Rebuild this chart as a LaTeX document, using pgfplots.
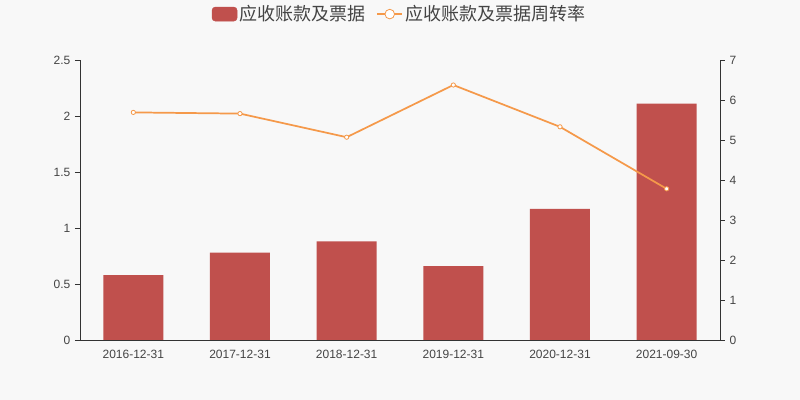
\documentclass[border=0pt]{standalone}
\usepackage{pgfplots}
\pgfplotsset{compat=1.18}
\usepackage{fontspec}
\setmainfont{Noto Sans CJK SC}
\newfontfamily\tickfont{Liberation Sans}
\definecolor{bg}{HTML}{F8F8F8}
\definecolor{barc}{HTML}{C0504D}
\definecolor{linec}{HTML}{F5994A}
\definecolor{axc}{HTML}{333333}
\definecolor{txt}{HTML}{444444}
\begin{document}
\begin{tikzpicture}[x=1pt,y=1pt]
\fill[bg] (0,0) rectangle (600,300);
\pgfplotsset{
  common/.style={
    at={(60pt,45pt)}, anchor=south west,
    scale only axis, width=480pt, height=210pt,
    xmin=-0.5, xmax=5.5,
    axis line style={axc, line width=0.6pt},
    tick style={axc, line width=0.6pt},
    tick align=outside,
    ticklabel style={font=\tickfont\fontsize{9}{10}\selectfont, text=txt},
    /pgf/number format/assume math mode=true,
    /pgf/number format/.cd, use period, 1000 sep={},
  },
}
\begin{axis}[common,
  axis x line*=bottom, axis y line*=left,
  ymin=0, ymax=2.5, ytick={0,0.5,1,1.5,2,2.5},
  yticklabels={0,0.5,1,1.5,2,2.5},
  major tick length=3.75pt,
  xtick={0,1,2,3,4,5},
  xticklabels={2016-12-31,2017-12-31,2018-12-31,2019-12-31,2020-12-31,2021-09-30},
  x tick style={draw=none},
  minor xtick={-0.5,0.5,1.5,2.5,3.5,4.5,5.5},
  minor x tick style={axc, line width=0.6pt},
  minor tick length=3.75pt,
  xticklabel style={yshift=0pt},
]
\addplot[ybar, bar width=45pt, fill=barc, draw=none] coordinates {
  (0,0.58) (1,0.78) (2,0.88) (3,0.66) (4,1.17) (5,2.11)};
\end{axis}
\begin{axis}[common,
  axis x line=none, axis y line*=right,
  ymin=0, ymax=7, ytick={0,1,2,3,4,5,6,7},
  major tick length=3.75pt,
  legend columns=2,
  legend style={at={(0.5,1.164)}, anchor=center, draw=none, fill=none,
    font=\fontsize{13.5}{15}\selectfont, text=txt,
    /tikz/every even column/.append style={column sep=6pt}},
]
\addlegendimage{legend image code/.code={\fill[barc, rounded corners=2.5pt] (0pt,-5.25pt) rectangle (18.75pt,5.25pt);}}
\addlegendentry{应收账款及票据}
\addplot[linec, line width=1.3pt, mark=*, mark size=1.6pt,
  mark options={fill=white, draw=linec, line width=0.6pt},
  legend image code/.code={\draw[linec, line width=0.9pt] (0pt,0pt) -- (18.75pt,0pt); \draw[linec, fill=white, line width=0.6pt] (9.375pt,0pt) circle (3.6pt);}]
  coordinates {(0,5.69) (1,5.66) (2,5.07) (3,6.375) (4,5.33) (5,3.78)};
\addlegendentry{应收账款及票据周转率}
\end{axis}
\end{tikzpicture}
\end{document}
